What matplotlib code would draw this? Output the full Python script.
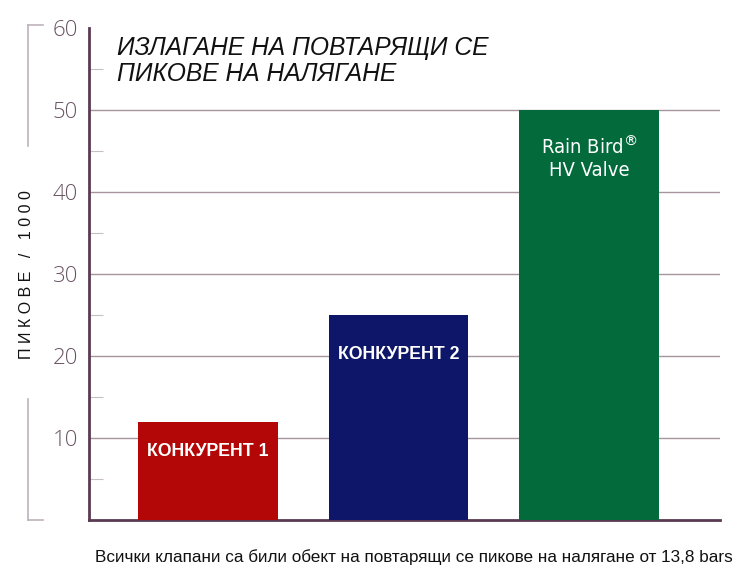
import numpy as np
import matplotlib.pyplot as plt
from matplotlib.lines import Line2D

categories = ['КОНКУРЕНТ 1', 'КОНКУРЕНТ 2', 'Rain Bird$^{®}$\nHV Valve']
values = [12, 25, 50]
colors = ['#b30606', '#0d1668', '#036b3b']
yticks = [10, 20, 30, 40, 50, 60]
title = 'ИЗЛАГАНЕ НА ПОВТАРЯЩИ СЕ\nПИКОВЕ НА НАЛЯГАНЕ'
ylabel = 'П И К О В Е   /   1 0 0 0'
footer = 'Всички клапани са били обект на повтарящи се пикове на налягане от 13,8 bars'

plt.rcParams['font.family'] = ['Liberation Sans', 'DejaVu Sans']

fig = plt.figure(figsize=(7.51, 5.79), dpi=100)
ax = fig.add_axes([89 / 751, 1 - 520 / 579, (720 - 89) / 751, (520 - 28) / 579])

pos = np.arange(len(values))
ax.bar(pos, values, width=0.735, color=colors, zorder=3)
ax.set_xlim(-0.625, 2.688)
ax.set_ylim(0, 60)

ax.set_yticks(yticks)
ax.set_yticks(np.arange(5, 60, 10), minor=True)
ax.set_xticks([])
ax.tick_params(axis='y', which='major', length=0, pad=8, labelsize=16,
               labelcolor='#6a5464')
ax.tick_params(axis='y', which='minor', direction='in', length=10,
               width=0.8, color='#c8bec6')
for lab in ax.get_yticklabels():
    lab.set_fontfamily(['Open Sans', 'DejaVu Sans'])
    lab.set_fontweight('light')

for y in yticks[:-1]:
    ax.axhline(y, color='#a8949f', lw=1.0, zorder=1)

for s in ['top', 'right']:
    ax.spines[s].set_visible(False)
for s in ['left', 'bottom']:
    ax.spines[s].set_color('#5a3a52')
    ax.spines[s].set_linewidth(2)

# bar labels
ax.text(pos[0], 8.4, categories[0], ha='center', va='center', color='white',
        fontsize=12.8, fontweight='bold')
ax.text(pos[1], 20.2, categories[1], ha='center', va='center', color='white',
        fontsize=12.8, fontweight='bold')
ax.text(pos[2], 44.2, categories[2], ha='center', va='center', color='white',
        fontsize=14.5, family='DejaVu Sans', stretch='condensed',
        linespacing=1.2)

fig.text(117 / 751, 1 - 36 / 579, title, ha='left', va='top', fontsize=17.7,
         style='italic', color='#111111', linespacing=1.12)

fig.text(27 / 751, 1 - 275 / 579, ylabel, rotation=90, ha='center',
         va='center', fontsize=11.5, color='#111111')

fig.text(95 / 751, 1 - 557 / 579, footer, ha='left', va='center',
         fontsize=12.3, color='#111111')

# bracket decorations
bc = '#bdb3bb'
fig.add_artist(Line2D([28 / 751, 28 / 751], [1 - 25 / 579, 1 - 146 / 579],
                      color=bc, lw=1.2))
fig.add_artist(Line2D([28 / 751, 43 / 751], [1 - 25 / 579, 1 - 25 / 579],
                      color=bc, lw=1.2))
fig.add_artist(Line2D([28 / 751, 28 / 751], [1 - 399 / 579, 1 - 520 / 579],
                      color=bc, lw=1.2))
fig.add_artist(Line2D([28 / 751, 43 / 751], [1 - 520 / 579, 1 - 520 / 579],
                      color=bc, lw=1.2))

fig.savefig('out.png', dpi=100)
